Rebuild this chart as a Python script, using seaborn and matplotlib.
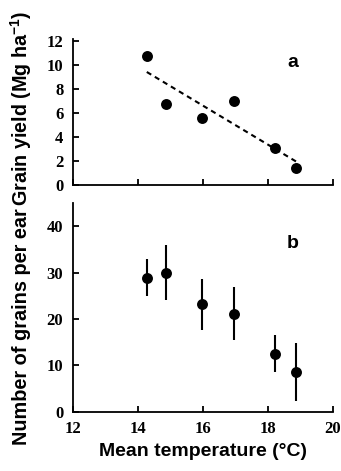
import seaborn as sns
import matplotlib.pyplot as plt
import numpy as np
import pandas as pd

# Panel a: grain yield vs mean temperature
temp = [14.27, 14.85, 15.97, 16.95, 18.2, 18.87]
grain_yield = [10.8, 6.8, 5.6, 7.0, 3.1, 1.4]

# Panel b: grains per ear (mean and error)
grains_per_ear = [28.9, 30.0, 23.2, 21.2, 12.5, 8.6]
grains_err = [4.0, 5.9, 5.5, 5.7, 4.0, 6.2]

x_ticks = [12, 14, 16, 18, 20]
yield_ticks = [0, 2, 4, 6, 8, 10, 12]
grain_ticks = [0, 10, 20, 30, 40]

sns.set_style('ticks', {'text.color': 'black', 'axes.labelcolor': 'black',
                        'xtick.color': 'black', 'ytick.color': 'black',
                        'axes.edgecolor': 'black'})
plt.rcParams['font.family'] = ['Liberation Sans', 'DejaVu Sans']
plt.rcParams['mathtext.default'] = 'regular'

df = pd.DataFrame({'temp': temp, 'yield': grain_yield,
                   'grains': grains_per_ear, 'err': grains_err})

fig = plt.figure(figsize=(3.41, 4.71), dpi=100)
ax1 = fig.add_axes([73 / 341, 1 - 185 / 471, 260 / 341, 146 / 471])
ax2 = fig.add_axes([73 / 341, 1 - 411.7 / 471, 260 / 341, 208.4 / 471])

# top panel
sns.regplot(data=df, x='temp', y='yield', ax=ax1, scatter=False, ci=None,
            color='black', line_kws={'lw': 1.5, 'ls': (0, (2.5, 2))})
sns.scatterplot(data=df, x='temp', y='yield', ax=ax1, color='black', s=62,
                edgecolor='black', linewidth=0, zorder=3)
ax1.set_xlim(12, 20)
ax1.set_ylim(0, 12.2)
ax1.set_xticks(x_ticks)
ax1.set_xticklabels([])
ax1.set_yticks(yield_ticks)
ax1.set_xlabel('')
ax1.set_ylabel('Grain yield (Mg ha$^{-1}$)', fontsize=14.2, fontweight='bold')
ax1.yaxis.set_label_coords(-0.15, 0.525)
ax1.text(18.75, 10.2, 'a', fontsize=14, fontweight='bold', ha='center', va='center')

# bottom panel
ax2.errorbar(df['temp'], df['grains'], yerr=df['err'], fmt='none',
             ecolor='black', elinewidth=1.5, capsize=0)
sns.scatterplot(data=df, x='temp', y='grains', ax=ax2, color='black', s=62,
                edgecolor='black', linewidth=0, zorder=3)
ax2.set_xlim(12, 20)
ax2.set_ylim(0, 45)
ax2.set_xticks(x_ticks)
ax2.set_yticks(grain_ticks)
ax2.set_xlabel('Mean temperature (°C)', fontsize=14, fontweight='bold', labelpad=4)
ax2.set_ylabel('Number of grains per ear', fontsize=14.3, fontweight='bold')
ax2.yaxis.set_label_coords(-0.162, 0.41)
ax2.text(18.75, 36.4, 'b', fontsize=14, fontweight='bold', ha='center', va='center')

for ax in (ax1, ax2):
    sns.despine(ax=ax)
    for s in ('left', 'bottom'):
        ax.spines[s].set_linewidth(1.3)
        ax.spines[s].set_color('black')
    ax.tick_params(direction='in', length=4.5, width=1.3, color='black',
                   labelcolor='black', pad=7)
    for lab in ax.get_xticklabels() + ax.get_yticklabels():
        lab.set_family('Liberation Serif')
        lab.set_fontweight('bold')
        lab.set_fontsize(12)

fig.savefig('out.png', dpi=100)
